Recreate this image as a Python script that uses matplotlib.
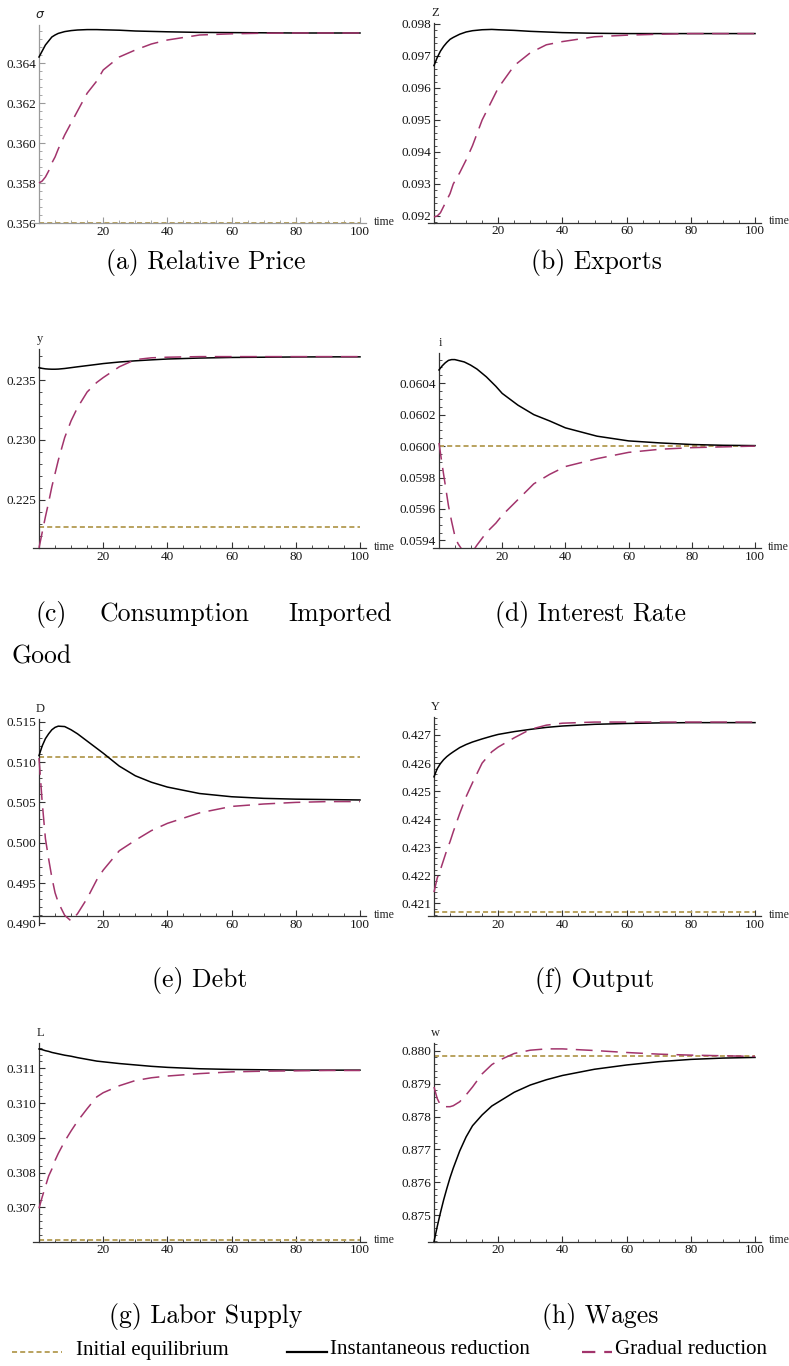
import matplotlib
matplotlib.use('Agg')
import matplotlib.pyplot as plt
from matplotlib.ticker import MultipleLocator, FormatStrFormatter

W, H = 789, 1366
fig = plt.figure(figsize=(W / 100, H / 100), dpi=100)

# ---------------- data ----------------
time = [0, 1, 2, 3, 4, 5, 6, 8, 10, 12, 15, 18, 20, 25, 30, 35, 40, 50, 60, 70, 80, 90, 100]

sigma_init = 0.3560
sigma_inst = [0.3643, 0.3646, 0.3649, 0.3651, 0.3653, 0.3654, 0.36548, 0.36557, 0.36562, 0.36565, 0.36567,
              0.36567, 0.36566, 0.36564, 0.3656, 0.36558, 0.36556, 0.36553, 0.36552, 0.36551, 0.3655, 0.3655, 0.3655]
sigma_grad = [0.3580, 0.3581, 0.3583, 0.3586, 0.3590, 0.3593, 0.3597, 0.3604, 0.3610, 0.3616, 0.36249,
              0.3631, 0.36365, 0.3643, 0.36465, 0.36495, 0.36515, 0.3654, 0.36546, 0.36549, 0.3655, 0.3655, 0.3655]

Z_init = None
Z_inst = [0.09670, 0.09695, 0.09715, 0.0973, 0.09742, 0.09752, 0.09758, 0.09768, 0.09775, 0.09779, 0.09782,
          0.09783, 0.09782, 0.09780, 0.09777, 0.09775, 0.09773, 0.09771, 0.0977, 0.0977, 0.0977, 0.0977, 0.0977]
Z_grad = [0.09197, 0.0920, 0.0921, 0.0923, 0.0925, 0.0927, 0.0930, 0.09335, 0.09375, 0.0942, 0.0950,
          0.0956, 0.0960, 0.0967, 0.09710, 0.09735, 0.09745, 0.0976, 0.09765, 0.09768, 0.0977, 0.0977, 0.0977]

y_init = 0.22272
y_inst = [0.23603, 0.23597, 0.23593, 0.23591, 0.2359, 0.2359, 0.23591, 0.23596, 0.23603, 0.2361, 0.2362,
          0.2363, 0.23637, 0.2365, 0.2366, 0.23668, 0.23675, 0.23683, 0.23688, 0.2369, 0.23692, 0.23693, 0.23693]
y_grad = [0.2210, 0.2223, 0.2236, 0.2248, 0.2261, 0.2272, 0.2283, 0.2302, 0.2316, 0.2327, 0.2340,
          0.2348, 0.2352, 0.2361, 0.2367, 0.23685, 0.2369, 0.23695, 0.23695, 0.23695, 0.23695, 0.23695, 0.23695]

i_init = 0.0600
i_inst = [0.060484, 0.06051, 0.06053, 0.060545, 0.06055, 0.06055, 0.060545, 0.060535, 0.060515, 0.06049, 0.06044,
          0.06038, 0.060335, 0.06026, 0.0602, 0.06016, 0.060116, 0.060063, 0.060033, 0.06002, 0.06001, 0.060005, 0.060003]
i_grad = [0.06002, 0.05988, 0.05975, 0.05962, 0.05952, 0.05943, 0.05938, 0.05932, 0.05931, 0.05937, 0.05945,
          0.05951, 0.05956, 0.05966, 0.05976, 0.05982, 0.05987, 0.05992, 0.05996, 0.05998, 0.05999, 0.059995, 0.0600]

D_init = 0.51062
D_inst = [0.5108, 0.5120, 0.5129, 0.5135, 0.5140, 0.5143, 0.51445, 0.51440, 0.5140, 0.5135, 0.5126,
          0.5117, 0.5111, 0.5095, 0.5083, 0.5075, 0.5069, 0.5061, 0.5057, 0.5055, 0.5054, 0.50535, 0.5053]
D_grad = [0.5105, 0.5050, 0.5005, 0.4980, 0.4957, 0.4938, 0.4926, 0.4910, 0.4903, 0.4912, 0.4931,
          0.4954, 0.4966, 0.4990, 0.5003, 0.5015, 0.5024, 0.5037, 0.5045, 0.5048, 0.5050, 0.5051, 0.5051]

Y_init = 0.4207
Y_inst = [0.42551, 0.4258, 0.42598, 0.42612, 0.42623, 0.42632, 0.4264, 0.42655, 0.42666, 0.42675, 0.42686,
          0.42696, 0.42702, 0.42712, 0.4272, 0.42727, 0.42732, 0.42738, 0.42741, 0.42743, 0.42744, 0.42744, 0.42744]
Y_grad = [0.4214, 0.4219, 0.4222, 0.42255, 0.4229, 0.4232, 0.42355, 0.4242, 0.4248, 0.4253, 0.4260,
          0.4264, 0.42657, 0.4269, 0.4272, 0.42735, 0.42742, 0.42746, 0.42746, 0.42746, 0.42746, 0.42746, 0.42746]

L_init = 0.30605
L_inst = [0.31156, 0.31154, 0.31151, 0.31149, 0.31146, 0.31144, 0.31142, 0.31138, 0.31135, 0.31131, 0.31126,
          0.31121, 0.31119, 0.31114, 0.3111, 0.31106, 0.31103, 0.31099, 0.31097, 0.31096, 0.31095, 0.31095, 0.31095]
L_grad = [0.30697, 0.3073, 0.3076, 0.3079, 0.3081, 0.30835, 0.30855, 0.3089, 0.3092, 0.30948, 0.30984,
          0.31018, 0.3103, 0.3105, 0.31065, 0.31073, 0.31078, 0.31085, 0.3109, 0.31092, 0.31093, 0.31094, 0.31094]

w_init = 0.87983
w_inst = [0.87419, 0.87465, 0.87507, 0.87546, 0.87581, 0.87614, 0.87643, 0.87695, 0.87738, 0.87772, 0.87805,
          0.87832, 0.87844, 0.87874, 0.87896, 0.87912, 0.87925, 0.87944, 0.87957, 0.87967, 0.87974, 0.87978, 0.8798]
w_grad = [0.8789, 0.87855, 0.87835, 0.8783, 0.8783, 0.8783, 0.87833, 0.87845, 0.87866, 0.8789, 0.8793,
          0.87958, 0.8797, 0.87992, 0.88002, 0.88006, 0.88006, 0.88001, 0.87995, 0.8799, 0.87987, 0.87985, 0.87983]

x_ticks = [20, 40, 60, 80, 100]
captions = ["(a) Relative Price", "(b) Exports", None, "(d) Interest Rate",
            "(e) Debt", "(f) Output", "(g) Labor Supply", "(h) Wages"]
legend_labels = ["Initial equilibrium", "Instantaneous reduction", "Gradual reduction"]

# ---------------- styling ----------------
C_INIT = '#B9A25E'
C_INST = '#000000'
C_GRAD = '#A2346C'
SERIF = ['Liberation Serif', 'DejaVu Serif']
CAPF = ['cmr10', 'DejaVu Serif']
CAPS = 18.5

# overlay axes in pixel coords for captions / legend
ov = fig.add_axes([0, 0, 1, 1])
ov.set_xlim(0, W)
ov.set_ylim(H, 0)
ov.axis('off')

# layout: (px0, px100, top_px, bottom_px, ylim, x-axis level, major, minor, fmt, axis label, axis colour)
layout = [
    (39, 360, 25, 223, (0.3560, 0.3659), 0.3560, 0.002, 0.0004, '%.3f', r'$\sigma$', '#9a9a9a'),
    (434, 755, 22.7, 222.7, (0.09179, 0.09804), 0.09179, 0.001, 0.0002, '%.3f', 'Z', '#333333'),
    (39, 360, 349.3, 548.3, (0.22097, 0.23756), 0.22097, 0.005, 0.001, '%.3f', 'y', '#333333'),
    (439, 755, 353.3, 548.3, (0.05935, 0.06059), 0.05935, 0.0002, 0.00005, '%.4f', 'i', '#333333'),
    (39, 360, 719.3, 925.0, (0.4898, 0.5153), 0.4909, 0.005, 0.001, '%.3f', 'D', '#333333'),
    (434, 755, 717.3, 916, (0.42055, 0.42763), 0.42055, 0.001, 0.0002, '%.3f', 'Y', '#333333'),
    (39, 360, 1042.7, 1241.7, (0.30601, 0.31174), 0.30601, 0.001, 0.0002, '%.3f', 'L', '#333333'),
    (434, 755, 1043.3, 1241.7, (0.87419, 0.88023), 0.87419, 0.001, 0.0002, '%.3f', 'w', '#333333'),
]
series = [
    (sigma_init, sigma_inst, sigma_grad),
    (Z_init, Z_inst, Z_grad),
    (y_init, y_inst, y_grad),
    (i_init, i_inst, i_grad),
    (D_init, D_inst, D_grad),
    (Y_init, Y_inst, Y_grad),
    (L_init, L_inst, L_grad),
    (w_init, w_inst, w_grad),
]

for (px0, px100, top, bot, ylim, xax, maj, mnr, fmt, lab, acol), (s_init, s_inst, s_grad) in zip(layout, series):
    sc = (px100 - px0) / 100.0
    left = px0 - 2 * sc
    right = px100 + 2 * sc
    ax = fig.add_axes([left / W, 1 - bot / H, (right - left) / W, (bot - top) / H])
    ax.set_xlim(-2, 102)
    ax.set_ylim(*ylim)
    ax.patch.set_alpha(0)
    for s in ['top', 'right']:
        ax.spines[s].set_visible(False)
    ax.spines['left'].set_position(('data', 0))
    ax.spines['bottom'].set_position(('data', xax))
    for s in ['left', 'bottom']:
        ax.spines[s].set_color(acol)
        ax.spines[s].set_linewidth(0.9)
    ax.xaxis.set_minor_locator(MultipleLocator(5))
    ax.set_xticks(x_ticks)
    ax.yaxis.set_major_locator(MultipleLocator(maj))
    ax.yaxis.set_minor_locator(MultipleLocator(mnr))
    ax.yaxis.set_major_formatter(FormatStrFormatter(fmt))
    ax.tick_params(which='major', direction='in', length=4, width=0.8, color=acol,
                   labelsize=9.5, labelcolor='#151515', pad=2)
    ax.tick_params(which='minor', direction='in', length=2, width=0.6, color=acol)
    for tl in ax.get_xticklabels() + ax.get_yticklabels():
        tl.set_fontfamily(SERIF)

    if s_init is not None:
        ax.plot([time[0], time[-1]], [s_init, s_init], color=C_INIT, lw=1.4,
                dashes=(2.6, 1.6), clip_on=False, zorder=2)
    ax.plot(time, s_inst, color=C_INST, lw=1.1, zorder=3)
    ax.plot(time, s_grad, color=C_GRAD, lw=1.1, dashes=(11, 5.5), zorder=4)

    ax.annotate(lab, xy=(0, ylim[1]), xytext=(1, 3), textcoords='offset points',
                ha='center', va='bottom', fontsize=9, family=SERIF, color='#222222',
                annotation_clip=False)
    ax.annotate('time', xy=(102, xax), xytext=(5, 1), textcoords='offset points',
                ha='left', va='center', fontsize=8.5, family=SERIF, color='#222222',
                annotation_clip=False)

# captions
cap_pos = [(206, 262), (596, 262), None, (591, 614), (200, 980), (595, 980), (206, 1316), (600, 1316)]
for cap, pos in zip(captions, cap_pos):
    if cap is None:
        continue
    ov.text(pos[0], pos[1], cap, ha='center', va='center', fontsize=CAPS, family=CAPF)
ov.text(36, 614, "(c)", ha='left', va='center', fontsize=CAPS, family=CAPF)
ov.text(100, 614, "Consumption", ha='left', va='center', fontsize=CAPS, family=CAPF)
ov.text(392, 614, "Imported", ha='right', va='center', fontsize=CAPS, family=CAPF)
ov.text(12, 657, "Good", ha='left', va='center', fontsize=CAPS, family=CAPF)

# legend
ly = 1350
ov.plot([12, 62], [ly + 2, ly + 2], color=C_INIT, lw=1.4, dashes=(2.6, 1.6))
ov.text(76, ly, legend_labels[0], ha='left', va='center', fontsize=15, family=SERIF)
ov.plot([287, 327], [ly + 2, ly + 2], color=C_INST, lw=1.6)
ov.text(330, ly, legend_labels[1], ha='left', va='center', fontsize=15, family=SERIF)
ov.plot([582, 612], [ly + 2, ly + 2], color=C_GRAD, lw=1.6, dashes=(6, 4))
ov.text(615, ly, legend_labels[2], ha='left', va='center', fontsize=15, family=SERIF)

fig.savefig('out.png', dpi=100)
